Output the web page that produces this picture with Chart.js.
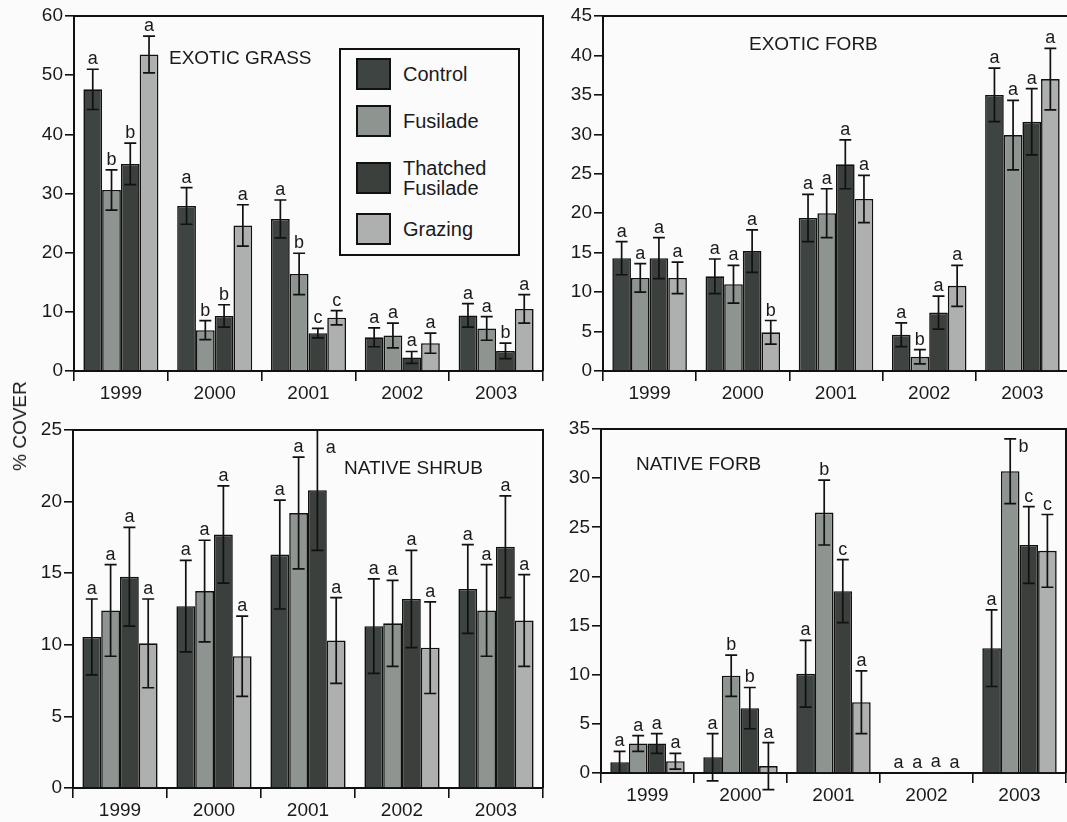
<!DOCTYPE html>
<html>
<head>
<meta charset="utf-8">
<script src="https://cdn.jsdelivr.net/npm/chart.js@4.4.0/dist/chart.umd.min.js"></script>
<style>
  body { margin: 0; width: 1067px; height: 822px; overflow: hidden; position: relative;
         background: #fbfbfb; font-family: "Liberation Sans", Arial, sans-serif; color: #1a1a1a; }
  canvas { position: absolute; }
  .title { position: absolute; font-size: 19px; white-space: nowrap; line-height: 1; }
  #ylabel { position: absolute; left: 20px; top: 426px; font-size: 19px; white-space: nowrap;
            transform: translate(-50%, -50%) rotate(-90deg); }
  #legend { position: absolute; left: 339px; top: 48px; width: 177px; height: 204px;
            border: 2px solid #111; background: #fbfbfb; }
  .item { position: absolute; left: 15px; display: flex; align-items: center; font-size: 20px; line-height: 1.0; }
  .sw { width: 31px; height: 28px; border: 2px solid #111; margin-right: 12px; flex: none; }
</style>
</head>
<body>
<canvas id="grass" width="548" height="410" style="left:0;top:0"></canvas>
<canvas id="forb" width="523" height="410" style="left:548px;top:0"></canvas>
<canvas id="shrub" width="548" height="422" style="left:0;top:400px"></canvas>
<canvas id="nforb" width="519" height="422" style="left:548px;top:400px"></canvas>

<div class="title" style="left:169px;top:48px">EXOTIC GRASS</div>
<div class="title" style="left:749px;top:34px">EXOTIC FORB</div>
<div class="title" style="left:344px;top:458px">NATIVE SHRUB</div>
<div class="title" style="left:636px;top:454px">NATIVE FORB</div>
<div id="ylabel">% COVER</div>
<div id="legend"></div>

<script>
// categories and treatments
var years = ['1999', '2000', '2001', '2002', '2003'];
var treatments = ['Control', 'Fusilade', 'Thatched\nFusilade', 'Grazing'];
var fills = ['#3e4441', '#8e9591', '#3b403d', '#adb0ae'];

// rows: Control, Fusilade, Thatched Fusilade, Grazing ; columns: years
var grassMean = [
  [47.6, 27.9, 25.7, 5.7, 9.4],
  [30.6, 6.9, 16.4, 6.0, 7.2],
  [35.0, 9.3, 6.4, 2.3, 3.4],
  [53.5, 24.6, 9.0, 4.7, 10.5]
];
var grassSE = [
  [3.4, 3.1, 3.2, 1.6, 2.0],
  [3.4, 1.6, 3.5, 2.1, 2.0],
  [3.5, 1.9, 0.8, 1.0, 1.3],
  [3.1, 3.5, 1.2, 1.7, 2.4]
];
var grassSig = [
  ['a', 'a', 'a', 'a', 'a'],
  ['b', 'b', 'b', 'a', 'a'],
  ['b', 'b', 'c', 'a', 'b'],
  ['a', 'a', 'c', 'a', 'a']
];

var forbMean = [
  [14.3, 12.0, 19.4, 4.6, 35.0],
  [11.8, 11.0, 20.0, 1.8, 29.9],
  [14.3, 15.2, 26.2, 7.4, 31.6],
  [11.8, 4.9, 21.8, 10.8, 37.0]
];
var forbSE = [
  [2.1, 2.2, 3.0, 1.5, 3.4],
  [1.8, 2.4, 3.1, 0.9, 4.4],
  [2.6, 2.7, 3.1, 2.1, 4.2],
  [2.0, 1.5, 3.0, 2.6, 3.9]
];
var forbSig = [
  ['a', 'a', 'a', 'a', 'a'],
  ['a', 'a', 'a', 'b', 'a'],
  ['a', 'a', 'a', 'a', 'a'],
  ['a', 'b', 'a', 'a', 'a']
];

var shrubMean = [
  [10.55, 12.7, 16.3, 11.3, 13.9],
  [12.4, 13.75, 19.2, 11.5, 12.4],
  [14.75, 17.7, 20.8, 13.2, 16.85],
  [10.1, 9.2, 10.3, 9.8, 11.7]
];
var shrubSE = [
  [2.65, 3.2, 3.8, 3.3, 3.1],
  [3.2, 3.55, 3.9, 3.0, 3.2],
  [3.45, 3.4, 4.2, 3.4, 3.55],
  [3.1, 2.8, 3.0, 3.2, 3.2]
];
var shrubSig = [
  ['a', 'a', 'a', 'a', 'a'],
  ['a', 'a', 'a', 'a', 'a'],
  ['a', 'a', 'a', 'a', 'a'],
  ['a', 'a', 'a', 'a', 'a']
];

var nforbMean = [
  [1.1, 1.6, 10.1, 0, 12.7],
  [3.0, 9.9, 26.5, 0, 30.7],
  [3.0, 6.6, 18.5, 0.1, 23.2],
  [1.2, 0.7, 7.2, 0, 22.6]
];
var nforbSE = [
  [1.1, 2.4, 3.4, 0, 3.9],
  [0.8, 2.1, 3.3, 0, 3.3],
  [1.0, 2.1, 3.2, 0, 3.9],
  [0.8, 2.4, 3.2, 0, 3.7]
];
var nforbSig = [
  ['a', 'a', 'a', 'a', 'a'],
  ['a', 'b', 'b', 'a', 'b'],
  ['a', 'b', 'c', 'a', 'c'],
  ['a', 'a', 'a', 'a', 'c']
];

var FONT = '"Liberation Sans", Arial, sans-serif';

// error bars + significance letters, drawn on top of the bars
var errorBars = {
  id: 'errorBars',
  afterDatasetsDraw: function (chart) {
    var ctx = chart.ctx, y = chart.scales.y, area = chart.chartArea;
    ctx.save();
    ctx.strokeStyle = '#111';
    ctx.lineWidth = 1.7;
    ctx.fillStyle = '#1a1a1a';
    ctx.font = '18px ' + FONT;
    chart.data.datasets.forEach(function (ds, i) {
      chart.getDatasetMeta(i).data.forEach(function (bar, j) {
        var hi = y.getPixelForValue(ds.data[j] + ds.se[j]);
        var lo = y.getPixelForValue(ds.data[j] - ds.se[j]);
        var half = bar.width * 0.32;
        if (ds.se[j] > 0) {
          ctx.beginPath();
          ctx.moveTo(bar.x, lo); ctx.lineTo(bar.x, hi);
          ctx.moveTo(bar.x - half, hi); ctx.lineTo(bar.x + half, hi);
          ctx.moveTo(bar.x - half, lo); ctx.lineTo(bar.x + half, lo);
          ctx.stroke();
        }
        var tx = bar.x, ty = hi - 5;
        ctx.textAlign = 'center';
        if (ty - 12 < area.top) {
          // no room under the frame: put the letter beside the bar
          tx = bar.x + bar.width / 2 - 1;
          ty = area.top + 23;
          ctx.textAlign = 'left';
        }
        ctx.textBaseline = 'alphabetic';
        ctx.fillText(ds.sig[j], tx, ty);
      });
    });
    ctx.restore();
  }
};

// box round the plot area
var frame = {
  id: 'frame',
  afterDraw: function (chart) {
    var a = chart.chartArea, ctx = chart.ctx;
    ctx.save();
    ctx.strokeStyle = '#111';
    ctx.lineWidth = 2;
    ctx.beginPath();
    ctx.moveTo(a.left, a.top); ctx.lineTo(a.right, a.top); ctx.lineTo(a.right, a.bottom);
    ctx.stroke();
    ctx.restore();
  }
};

function makeChart(id, means, ses, sigs, max, step, yWidth, xHeight, padTop, padRight) {
  var datasets = treatments.map(function (t, i) {
    return {
      label: t,
      data: means[i],
      se: ses[i],
      sig: sigs[i],
      backgroundColor: fills[i],
      borderColor: '#111',
      borderWidth: 1.6,
      borderSkipped: 'bottom',
      categoryPercentage: 0.8,
      barPercentage: 1.0
    };
  });
  return new Chart(document.getElementById(id), {
    type: 'bar',
    data: { labels: years, datasets: datasets },
    plugins: [errorBars, frame],
    options: {
      responsive: false,
      animation: false,
      layout: { padding: { top: padTop, right: padRight, left: 0, bottom: 0 } },
      plugins: { legend: { display: false }, tooltip: { enabled: false } },
      scales: {
        x: {
          border: { color: '#111', width: 2 },
          grid: { drawOnChartArea: false, offset: true, tickLength: 10, color: '#111', lineWidth: 1.6 },
          ticks: { color: '#1a1a1a', font: { size: 19, family: FONT }, padding: 1 },
          afterFit: function (s) { s.height = xHeight; }
        },
        y: {
          min: 0,
          max: max,
          border: { color: '#111', width: 2 },
          grid: { drawOnChartArea: false, tickLength: 9, color: '#111', lineWidth: 1.6 },
          ticks: { stepSize: step, color: '#1a1a1a', font: { size: 19, family: FONT }, padding: 2 },
          afterFit: function (s) { s.width = yWidth; }
        }
      }
    }
  });
}

makeChart('grass', grassMean, grassSE, grassSig, 60, 10, 74, 39, 16, 5);
makeChart('forb', forbMean, forbSE, forbSig, 45, 5, 55, 39, 16, 2);
makeChart('shrub', shrubMean, shrubSE, shrubSig, 25, 5, 73, 34, 30, 5);
makeChart('nforb', nforbMean, nforbSE, nforbSig, 35, 5, 53, 49, 29, 1);

// legend box (text kept as real text)
var legend = document.getElementById('legend');
var tops = [8, 55, 108, 163];
treatments.forEach(function (t, i) {
  var item = document.createElement('div');
  item.className = 'item';
  item.style.top = tops[i] + 'px';
  var sw = document.createElement('div');
  sw.className = 'sw';
  sw.style.background = fills[i];
  var label = document.createElement('div');
  label.innerHTML = t.replace('\n', '<br>');
  item.appendChild(sw);
  item.appendChild(label);
  legend.appendChild(item);
});
</script>
</body>
</html>
